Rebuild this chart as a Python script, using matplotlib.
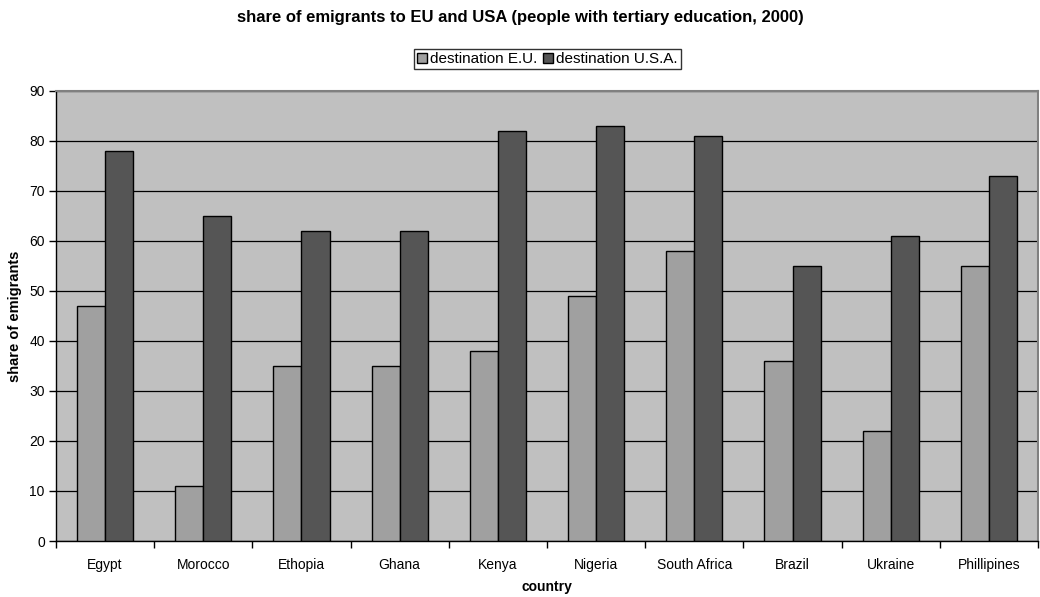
import numpy as np
import matplotlib
matplotlib.use('Agg')
import matplotlib.pyplot as plt
from matplotlib.ticker import FixedLocator, NullFormatter

plt.rcParams['font.family'] = ['Liberation Sans', 'DejaVu Sans']

# --- dados ---
countries = ['Egypt', 'Morocco', 'Ethopia', 'Ghana', 'Kenya', 'Nigeria',
             'South Africa', 'Brazil', 'Ukraine', 'Phillipines']
share_eu = [47, 11, 35, 35, 38, 49, 58, 36, 22, 55]
share_usa = [78, 65, 62, 62, 82, 83, 81, 55, 61, 73]
y_ticks = [0, 10, 20, 30, 40, 50, 60, 70, 80, 90]

# --- figura ---
fig = plt.figure(figsize=(10.4, 5.97), dpi=100)
ax = fig.add_axes([0.0538, 0.0938, 0.9443, 0.7538])
ax.set_facecolor('#C0C0C0')

x = np.arange(len(countries))
w = 1 / 3.5  # gap width 150%
ax.bar(x - w / 2, share_eu, w, color='#A0A0A0', edgecolor='black',
       linewidth=1.0, label='destination E.U.', zorder=3)
ax.bar(x + w / 2, share_usa, w, color='#555555', edgecolor='black',
       linewidth=1.0, label='destination U.S.A.', zorder=3)

ax.set_xlim(-0.5, len(countries) - 0.5)
ax.set_ylim(0, 90)
ax.set_yticks(y_ticks)
ax.yaxis.grid(True, color='black', linewidth=0.9, zorder=1)
ax.set_axisbelow(True)

ax.set_xticks(x)
ax.set_xticklabels(countries)
ax.xaxis.set_minor_locator(FixedLocator(np.arange(-0.5, len(countries), 1.0)))
ax.xaxis.set_minor_formatter(NullFormatter())
ax.tick_params(axis='x', which='major', length=0, pad=12, labelsize=10)
ax.tick_params(axis='x', which='minor', length=5, width=1, direction='out')
ax.tick_params(axis='y', length=5, width=1, direction='out', labelsize=10, pad=3)

for side in ['top', 'right']:
    ax.spines[side].set_color('#808080')
    ax.spines[side].set_linewidth(1.5)
for side in ['left', 'bottom']:
    ax.spines[side].set_color('black')
    ax.spines[side].set_linewidth(1.0)

ax.set_xlabel('country', fontweight='bold', fontsize=10, labelpad=6)
ax.set_ylabel('share of emigrants', fontweight='bold', fontsize=10.5)
ax.yaxis.set_label_coords(-0.035, 0.5)

fig.text(0.5, 0.97, 'share of emigrants to EU and USA (people with tertiary education, 2000)',
         ha='center', va='center', fontweight='bold', fontsize=12)

leg = fig.legend(loc='center', bbox_to_anchor=(0.526, 0.901), ncol=2,
                 frameon=True, fancybox=False, shadow=False, fontsize=11,
                 handlelength=0.65, handleheight=0.65, handletextpad=0.2,
                 columnspacing=0.4, borderpad=0.2, borderaxespad=0)
leg.get_frame().set_edgecolor('black')
leg.get_frame().set_linewidth(1.0)

fig.savefig('out.png', dpi=100)
